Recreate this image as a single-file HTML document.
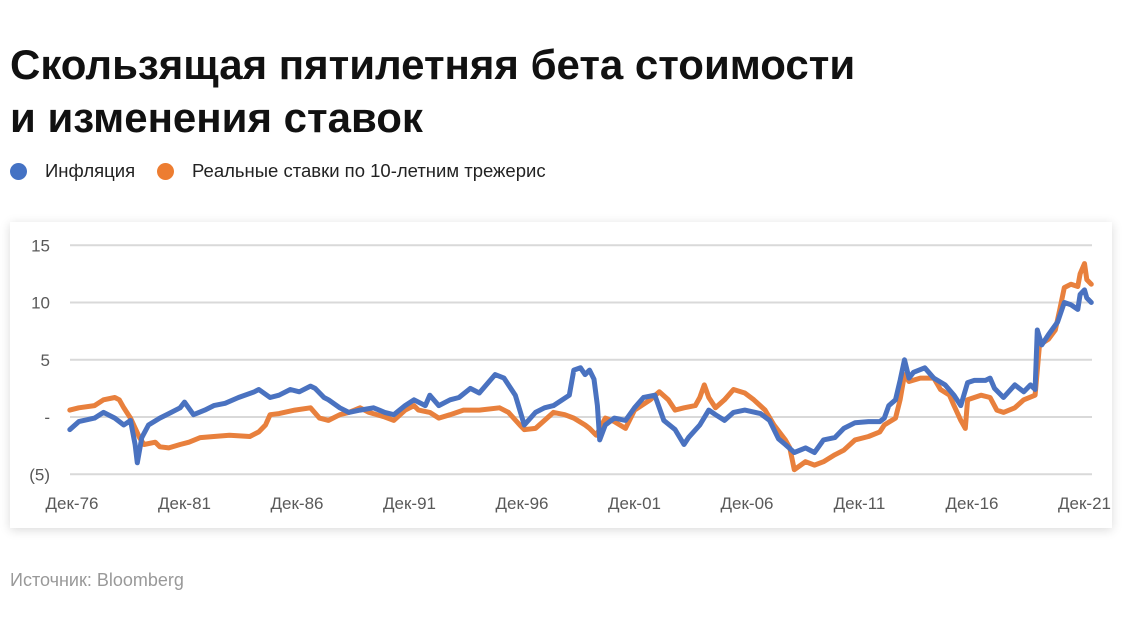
<!DOCTYPE html>
<html><head><meta charset="utf-8"><style>
body{margin:0;width:1139px;height:633px;background:#fff;font-family:"Liberation Sans",sans-serif;overflow:hidden;position:relative}
h1{position:absolute;left:10px;top:38px;margin:0;font-size:42px;line-height:53px;font-weight:bold;color:#111}
.leg{position:absolute;top:160px;font-size:18.5px;color:#222;display:flex;align-items:center}
.dot{width:17px;height:17px;border-radius:50%;margin-right:18px}
.card{position:absolute;left:10px;top:222px;width:1102px;height:306px;background:#fff;box-shadow:0 2px 10px rgba(0,0,0,0.15)}
.src{position:absolute;left:10px;top:570px;font-size:18px;color:#999}
</style></head><body>
<h1>Скользящая пятилетняя бета стоимости<br>и изменения ставок</h1>
<div class="leg" style="left:10px"><div class="dot" style="background:#4472c4"></div>Инфляция</div>
<div class="leg" style="left:157px"><div class="dot" style="background:#ed7d31"></div>Реальные ставки по 10-летним трежерис</div>
<div class="card"></div>
<svg id="chart" width="1139" height="633" style="position:absolute;left:0;top:0"></svg>
<div class="src">Источник: Bloomberg</div>
<script>
const yTicks=[15,10,5,0,-5];
const yTickLabels=["15","10","5","-","(5)"];
const xTickYears=[1976.92,1981.92,1986.92,1991.92,1996.92,2001.92,2006.92,2011.92,2016.92,2021.92];
const xTickLabels=["Дек-76","Дек-81","Дек-86","Дек-91","Дек-96","Дек-01","Дек-06","Дек-11","Дек-16","Дек-21"];
const infYears=[1977.0,1977.4,1978.1,1978.5,1979.0,1979.4,1979.7,1979.9,1980.0,1980.2,1980.5,1981.0,1981.4,1981.9,1982.1,1982.5,1983.0,1983.4,1983.9,1984.5,1985.2,1985.4,1985.9,1986.3,1986.8,1987.2,1987.7,1987.9,1988.3,1988.5,1989.0,1989.4,1989.9,1990.5,1991.0,1991.4,1991.9,1992.3,1992.8,1993.0,1993.4,1993.9,1994.3,1994.8,1995.2,1995.9,1996.3,1996.8,1997.2,1997.7,1998.1,1998.5,1999.2,1999.4,1999.7,1999.9,2000.1,2000.3,2000.45,2000.55,2000.8,2001.2,2001.7,2002.1,2002.5,2003.0,2003.4,2003.9,2004.3,2004.5,2005.0,2005.4,2005.7,2006.1,2006.5,2007.0,2007.7,2008.1,2008.5,2008.8,2009.2,2009.7,2010.1,2010.5,2011.0,2011.4,2011.9,2012.5,2013.0,2013.2,2013.4,2013.7,2013.9,2014.1,2014.3,2014.5,2015.0,2015.4,2015.9,2016.3,2016.6,2016.9,2017.2,2017.7,2017.9,2018.1,2018.5,2019.0,2019.4,2019.7,2019.9,2020.0,2020.2,2020.5,2020.9,2021.2,2021.5,2021.8,2021.9,2022.1,2022.2,2022.4];
const infValues=[-1.1,-0.4,-0.1,0.4,-0.1,-0.7,-0.3,-2.4,-4.0,-1.8,-0.7,-0.1,0.3,0.8,1.3,0.2,0.6,1.0,1.2,1.7,2.2,2.4,1.7,1.9,2.4,2.2,2.7,2.5,1.7,1.5,0.8,0.4,0.6,0.8,0.4,0.2,1.0,1.5,1.0,1.9,1.0,1.5,1.7,2.5,2.1,3.7,3.4,1.9,-0.7,0.4,0.8,1.0,1.9,4.1,4.3,3.7,4.1,3.3,1.0,-2.0,-0.7,-0.1,-0.3,0.8,1.7,1.9,-0.3,-1.1,-2.4,-1.8,-0.7,0.6,0.2,-0.3,0.4,0.6,0.3,-0.3,-1.9,-2.4,-3.1,-2.7,-3.1,-2.0,-1.8,-1.0,-0.5,-0.4,-0.4,-0.1,1.0,1.5,3.2,5.0,3.4,3.9,4.3,3.4,2.8,1.9,1.0,3.0,3.2,3.2,3.4,2.5,1.7,2.8,2.2,2.8,2.4,7.6,6.3,7.2,8.3,10.0,9.8,9.4,10.7,11.1,10.4,10.0];
const rateYears=[1977.0,1977.4,1978.1,1978.5,1979.0,1979.2,1979.4,1979.7,1980.1,1980.3,1980.8,1981.0,1981.4,1981.9,1982.3,1982.8,1983.4,1984.1,1985.0,1985.4,1985.7,1985.9,1986.3,1987.0,1987.7,1988.1,1988.5,1989.0,1989.4,1989.9,1990.3,1991.0,1991.4,1991.9,1992.3,1992.5,1993.0,1993.4,1993.9,1994.5,1995.2,1996.1,1996.5,1997.0,1997.2,1997.7,1998.1,1998.5,1999.0,1999.4,1999.9,2000.1,2000.4,2000.8,2001.2,2001.7,2002.1,2002.8,2003.2,2003.6,2003.9,2004.3,2004.8,2005.0,2005.2,2005.4,2005.7,2006.1,2006.5,2007.0,2007.4,2007.9,2008.3,2008.8,2009.0,2009.2,2009.7,2010.1,2010.5,2011.0,2011.4,2011.9,2012.5,2013.0,2013.2,2013.7,2013.9,2014.1,2014.3,2014.8,2015.4,2015.7,2016.1,2016.3,2016.6,2016.8,2016.9,2017.5,2017.9,2018.2,2018.5,2019.0,2019.4,2019.9,2020.1,2020.5,2020.8,2021.0,2021.2,2021.5,2021.8,2021.9,2022.1,2022.2,2022.4];
const rateValues=[0.6,0.8,1.0,1.5,1.7,1.5,0.8,-0.1,-1.8,-2.4,-2.2,-2.6,-2.7,-2.4,-2.2,-1.8,-1.7,-1.6,-1.7,-1.3,-0.7,0.2,0.3,0.6,0.8,-0.1,-0.3,0.2,0.4,0.8,0.4,0.0,-0.3,0.6,1.0,0.6,0.4,-0.1,0.2,0.6,0.6,0.8,0.4,-0.7,-1.1,-1.0,-0.3,0.4,0.2,-0.1,-0.7,-1.0,-1.6,-0.1,-0.4,-1.0,0.6,1.5,2.2,1.5,0.6,0.8,1.0,1.7,2.8,1.7,0.8,1.5,2.4,2.1,1.5,0.6,-0.7,-2.0,-2.7,-4.6,-3.9,-4.2,-3.9,-3.3,-2.9,-2.0,-1.7,-1.3,-0.7,-0.1,1.5,3.7,3.1,3.4,3.4,2.4,1.9,1.0,-0.3,-1.0,1.5,1.9,1.7,0.6,0.4,0.8,1.5,1.9,6.3,6.8,7.6,9.4,11.3,11.6,11.4,12.5,13.4,12.0,11.6];

const NS="http://www.w3.org/2000/svg";
const svg=document.getElementById('chart');
const x=yr=>68+(yr-1976.92)*22.5;
const y=v=>417-v*11.45;
function mk(tag,attrs){const e=document.createElementNS(NS,tag);for(const k in attrs)e.setAttribute(k,attrs[k]);svg.appendChild(e);return e;}
yTicks.forEach((t,i)=>{
  const g=mk('line',{x1:70,x2:1092,y1:y(t),y2:y(t),stroke:'#d9d9d9','stroke-width':2});
  
  
  const tx=mk('text',{x:50,y:y(t)+6,'text-anchor':'end','font-size':17,fill:'#595959','font-family':'Liberation Sans, sans-serif'});
  tx.textContent=yTickLabels[i];
  
  
});
xTickYears.forEach((yr,i)=>{
  const tx=mk('text',{x:x(yr)+4,y:509,'text-anchor':'middle','font-size':17,fill:'#595959','font-family':'Liberation Sans, sans-serif'});
  tx.textContent=xTickLabels[i];
  
  
});
function line(xs,vs,color,name){
  const d=xs.map((v,i)=>(i?'L':'M')+x(v).toFixed(1)+','+y(vs[i]).toFixed(1)).join('');
  const p=mk('path',{d:d,fill:'none',stroke:color,'stroke-width':5,'stroke-linejoin':'round','stroke-linecap':'round'});
  
  
}
line(rateYears,rateValues,'#e8803d','real-rates-line');
line(infYears,infValues,'#4a72c0','inflation-line');
</script>
</body></html>
